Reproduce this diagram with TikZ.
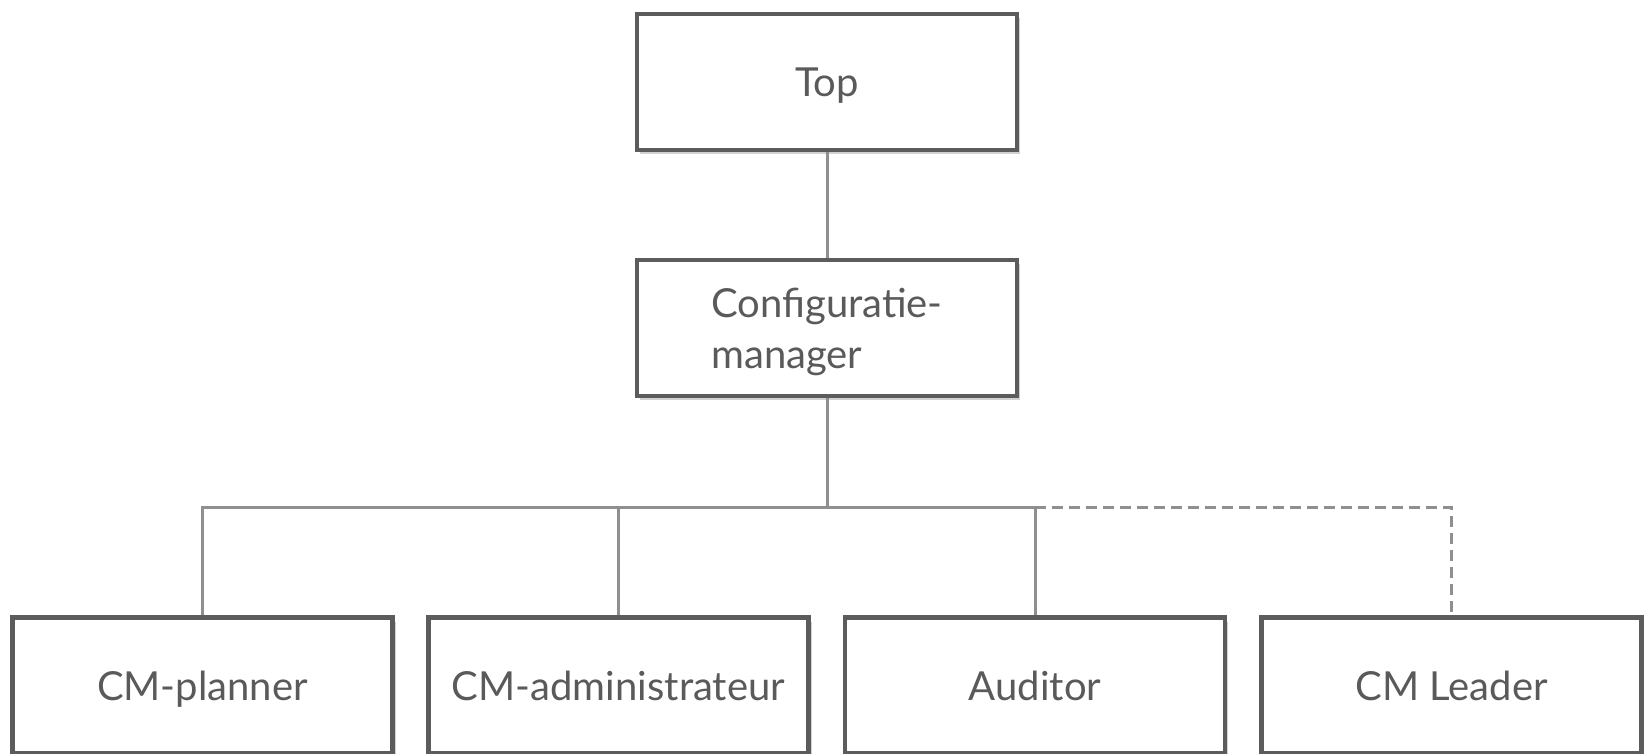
\documentclass[tikz,border=0pt]{standalone}
\usepackage{fontspec}
\setmainfont{Lato}
\usetikzlibrary{shadows}
\definecolor{boxline}{HTML}{5C5C5E}
\definecolor{connline}{HTML}{8F8F92}
\definecolor{txt}{HTML}{5A5A5C}
\tikzset{
  orgbox/.style={draw=boxline, line width=4.5pt, fill=white, minimum width=380pt, minimum height=136pt,
    inner sep=0pt, text=txt, font=\fontsize{40}{51}\selectfont, text height=29pt, text depth=0pt,
    drop shadow={shadow xshift=3pt, shadow yshift=-4pt, opacity=0.18, fill=black}},
  conn/.style={draw=connline, line width=3pt},
  dconn/.style={conn, dash pattern=on 11pt off 6pt}
}
\begin{document}
\begin{tikzpicture}[x=1pt,y=-1pt]
\useasboundingbox (0,0) rectangle (1644,753);
\node[orgbox] (top) at (827,81.75) {Top};
\node[orgbox, align=left, text height=81pt] (cfg) at (827,327.75) {Configuratie-\\manager};
\node[orgbox] (plan) at (202.5,685.5) {CM-planner};
\node[orgbox] (adm) at (618.5,685.5) {CM-administrateur};
\node[orgbox] (aud) at (1035,685.5) {Auditor};
\node[orgbox] (lead) at (1451.5,685.5) {CM Leader};
\coordinate (bus) at (827,507);
\coordinate (busr) at (1035,507);
\draw[conn] (top.south) -- (cfg.north);
\draw[conn] (cfg.south) -- (bus);
\draw[conn] (bus) -| (plan.north);
\draw[conn] (bus) -| (adm.north);
\draw[conn] (bus) -| (aud.north);
\draw[dconn] (busr) -| (lead.north);
\end{tikzpicture}
\end{document}
